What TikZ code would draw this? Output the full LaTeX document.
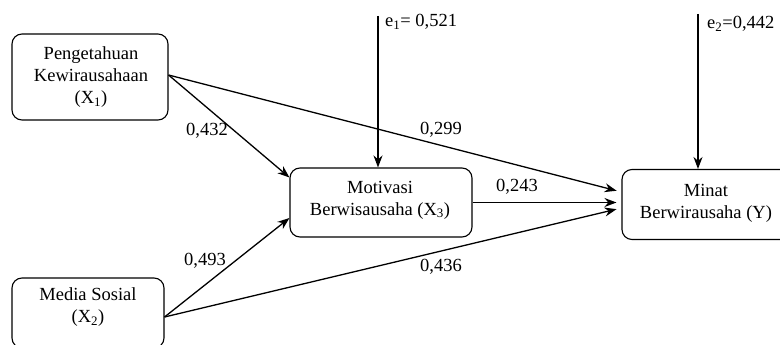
\documentclass[tikz,border=0pt]{standalone}
\usepackage{fontspec}
\setmainfont{Liberation Serif}
\usetikzlibrary{arrows.meta,calc}
\begin{document}
\begin{tikzpicture}[x=1pt,y=-1pt,
  box/.style={draw, line width=1.1pt, rounded corners=10pt, align=center, inner sep=0pt},
  txt/.style={align=center, inner sep=0pt, font=\fontsize{18.5}{22}\selectfont},
  lbl/.style={inner sep=0pt, font=\fontsize{18.5}{22}\selectfont},
  arr/.style={line width=1.3pt, -{Stealth[length=12pt,width=9pt]}}]
\useasboundingbox (0,0) rectangle (780,345);
\begin{scope}
\clip (0,0) rectangle (780,345);
\node[box, minimum width=156pt, minimum height=86pt] (x1) at (90,77) {};
\node[txt] (x1t) at (91,77) {Pengetahuan\\Kewirausahaan\\(X\textsubscript{1})};
\node[box, minimum width=152pt, minimum height=70pt] (x2) at (88,313) {};
\node[txt] (x2t) at (88,307) {Media Sosial\\(X\textsubscript{2})};
\node[box, minimum width=182pt, minimum height=69pt] (x3) at (381,202.5) {};
\node[txt] (x3t) at (380,200) {Motivasi\\Berwisausaha (X\textsubscript{3})};
\node[box, minimum width=168pt, minimum height=70pt] (y) at (706,204.5) {};
\node[txt] (yt) at (706,203) {Minat\\Berwirausaha (Y)};
\end{scope}
\coordinate (e1) at (378,16);
\coordinate (e2) at (698,14);
\node[lbl, anchor=west] (e1l) at (385,22) {e\textsubscript{1}= 0,521};
\node[lbl, anchor=west] (e2l) at (707,24) {e\textsubscript{2}=0,442};
\draw[arr] (e1) -- (e1 |- x3.north);
\draw[arr] (e2) -- (e2 |- y.north);
\draw[arr] ([yshift=2pt]x1.east) -- ([yshift=25pt]x3.west);
\draw[arr] ([yshift=-4pt]x2.east) -- ([yshift=-15.5pt]x3.west);
\draw[arr, shorten >=5pt] ([yshift=2pt]x1.east) -- ([yshift=12.5pt]y.west);
\draw[arr, shorten >=5pt] (x3.east) -- (x3.east -| y.west);
\draw[arr, shorten >=5pt] ([yshift=-4pt]x2.east) -- ([yshift=-3.5pt]y.west);
\node[lbl] (l1) at (207,131) {0,432};
\node[lbl] (l2) at (441,130) {0,299};
\node[lbl] (l3) at (517,187) {0,243};
\node[lbl] (l4) at (205,261) {0,493};
\node[lbl] (l5) at (441,267) {0,436};
\end{tikzpicture}
\end{document}
